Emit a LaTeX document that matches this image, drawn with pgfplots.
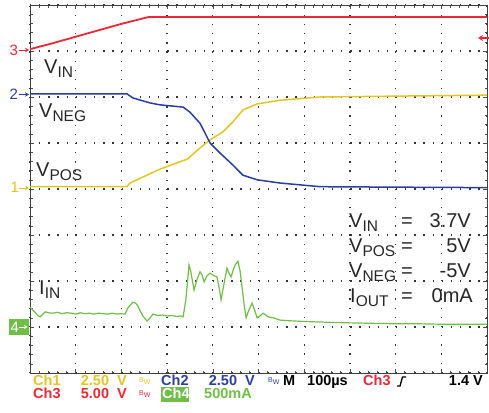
\documentclass[border=0pt]{standalone}
\usepackage{pgfplots}
\pgfplotsset{compat=1.18}
\usepackage{fontspec}
\setmainfont{Liberation Sans}
\usetikzlibrary{arrows.meta}
\definecolor{cy}{RGB}{226,196,36}
\definecolor{cb}{RGB}{44,62,160}
\definecolor{cr}{RGB}{236,40,52}
\definecolor{cg}{RGB}{112,190,72}
\newcommand\lab[2]{#1{\fontsize{15.5}{16}\selectfont\raisebox{-4pt}{#2}}}
\newcommand\bw{{\fontsize{7}{7}\selectfont\normalfont B\raisebox{-2pt}{W}}}
\begin{document}
\begin{tikzpicture}
\begin{axis}[at={(30pt,39pt)}, anchor=south west, scale only axis,
  width=457pt, height=368pt,
  xmin=0, xmax=10, ymin=0, ymax=8,
  xtick={0,...,10}, ytick={0,...,8},
  xticklabels={}, yticklabels={},
  grid=major,
  major grid style={black!80, line width=1.3pt, dash pattern=on 1.3pt off 7.85pt},
  minor tick num=4, tick align=inside,
  major tick length=4pt, minor tick length=2.5pt,
  tick style={black!70, line width=0.6pt},
  axis line style={black!75, line width=0.8pt},
]
% Ch3 VIN (red)
\addplot[cr, line width=1.8pt] coordinates {
(0,7.04) (0.5,7.17) (1.0,7.31) (1.5,7.45) (2.0,7.59) (2.6,7.74) (4,7.74) (6,7.74) (8,7.74) (10,7.74)};
% Ch1 VPOS (yellow)
\addplot[cy, line width=1.5pt] coordinates {
(0,4.05) (1.0,4.05) (2.12,4.05) (2.19,4.13) (2.47,4.26) (2.84,4.43) (3.22,4.57) (3.44,4.65)
(3.72,4.89) (3.94,5.07) (4.22,5.24) (4.44,5.46) (4.66,5.72) (4.97,5.85) (5.47,5.93)
(6.35,6.00) (8.10,6.02) (10,6.04)};
% Ch2 VNEG (blue)
\addplot[cb, line width=1.5pt] coordinates {
(0,6.07) (1.0,6.07) (2.12,6.07) (2.25,5.98) (2.63,5.87) (2.84,5.83) (3.35,5.78) (3.50,5.67)
(3.72,5.43) (3.94,5.00) (4.16,4.78) (4.44,4.52) (4.66,4.30) (4.97,4.20) (5.47,4.13)
(5.91,4.09) (6.35,4.05) (8.0,4.04) (10,4.03)};
% Ch4 IIN (green)
\addplot[cg, line width=1.2pt] coordinates {
(0,1.43) (0.05,1.38) (0.11,1.32) (0.17,1.25) (0.22,1.22) (0.28,1.28) (0.33,1.33) (0.4,1.31)
(0.5,1.30) (0.6,1.32) (0.7,1.29) (0.8,1.31) (0.9,1.30) (1.0,1.28) (1.1,1.31) (1.2,1.29)
(1.3,1.30) (1.4,1.28) (1.5,1.30) (1.6,1.29) (1.7,1.28) (1.8,1.30) (1.9,1.28) (2.0,1.29)
(2.08,1.28) (2.14,1.41) (2.25,1.54) (2.31,1.52) (2.36,1.46) (2.42,1.33) (2.47,1.24)
(2.56,1.13) (2.63,1.20) (2.69,1.28) (2.8,1.25) (2.9,1.26) (3.0,1.24) (3.1,1.25) (3.2,1.23)
(3.3,1.24) (3.35,1.22) (3.41,1.59) (3.48,2.35) (3.52,2.20) (3.59,1.80) (3.65,2.02)
(3.72,2.20) (3.77,2.12) (3.81,1.98) (3.87,2.11) (3.94,2.17) (4.03,2.11) (4.09,2.09)
(4.14,1.85) (4.18,1.59) (4.24,1.91) (4.31,2.28) (4.35,2.18) (4.40,2.09) (4.45,2.25)
(4.49,2.35) (4.55,2.43) (4.60,2.20) (4.64,1.87) (4.69,1.45) (4.73,1.20) (4.79,1.37)
(4.86,1.52) (4.92,1.35) (4.97,1.20) (5.03,1.24) (5.10,1.30) (5.16,1.26) (5.21,1.22)
(5.32,1.20) (5.47,1.15) (5.6,1.14) (5.8,1.13) (6.0,1.12) (6.3,1.11) (6.6,1.10) (7.0,1.09)
(7.5,1.08) (8.0,1.07) (8.5,1.07) (9.0,1.06) (9.5,1.06) (10,1.06)};
\end{axis}
\begin{scope}[x=1pt, y=-1pt, shift={(0pt,412pt)}]
% trace labels
\begin{scope}[every node/.style={anchor=base west, inner sep=0pt, text=black!85, font=\fontsize{20}{20}\selectfont}]
\node at (44,74) {\lab{V}{IN}};
\node at (39,118) {\lab{V}{NEG}};
\node at (36,177) {\lab{V}{POS}};
\node at (39,295) {\lab{I}{IN}};
% right block
\node at (349,228) {\lab{V}{IN}};
\node at (349,253) {\lab{V}{POS}};
\node at (349,278) {\lab{V}{NEG}};
\node at (350,302) {\lab{I}{OUT}};
\node at (401,228) {=};
\node at (401,253) {=};
\node at (401,278) {=};
\node at (401,302) {=};
\node[anchor=base east] at (471,228) {3.7V};
\node[anchor=base east] at (471,253) {5V};
\node[anchor=base east] at (471,278) {-5V};
\node[anchor=base east] at (473,302) {0mA};
\end{scope}
% channel markers
\begin{scope}[every node/.style={anchor=base west, inner sep=0pt, font=\fontsize{15}{15}\selectfont}]
\node[text=cr] at (9.5,56) {3};
\draw[cr, line width=0.9pt, -{Stealth[length=4pt,width=4.5pt]}] (18.5,50) -- (29,50);
\node[text=cb] at (9.5,100) {2};
\draw[cb, line width=0.9pt, -{Stealth[length=4pt,width=4.5pt]}] (18.5,94.5) -- (29,94.5);
\node[text=cy] at (10.5,193) {1};
\draw[cy, line width=0.9pt, -{Stealth[length=4pt,width=4.5pt]}] (18.5,188) -- (29,188);
\fill[cg] (9,319) rectangle (29,335);
\node[text=white] at (10.5,332.5) {4};
\draw[white, line width=0.9pt, -{Stealth[length=3.5pt,width=4pt]}] (18.5,327) -- (27.5,327);
\end{scope}
\draw[cr, line width=1.1pt, -{Stealth[length=5pt,width=6pt]}] (489,38) -- (478,38);
% status line
\begin{scope}[every node/.style={inner sep=0pt, font=\fontsize{14.5}{14.5}\selectfont\bfseries}]
\node[anchor=base west, text=cy] at (33,385) {Ch1};
\node[anchor=base east, text=cy] at (127,385) {2.50\ \ V};
\node[anchor=base west, text=cy] at (139,382) {\bw};
\node[anchor=base west, text=cb] at (161,385) {Ch2};
\node[anchor=base east, text=cb] at (255,385) {2.50\ \ V};
\node[anchor=base west, text=cb] at (268,382) {\bw};
\node[anchor=base west, text=black] at (283,385) {M};
\node[anchor=base west, text=black] at (307,385) {100µs};
\node[anchor=base west, text=cr] at (363,385) {Ch3};
\node[anchor=base east, text=black] at (483,385) {1.4\ V};
\node[anchor=base west, text=cr] at (33,398) {Ch3};
\node[anchor=base east, text=cr] at (127,398) {5.00\ \ V};
\node[anchor=base west, text=cr] at (139,395) {\bw};
\fill[cg] (161,387) rectangle (189,402);
\node[anchor=base west, text=white] at (162,398) {Ch4};
\node[anchor=base west, text=cg] at (204,398) {500mA};
\end{scope}
\draw[black, line width=1.3pt] (397,386) -- (400,386) -- (402.5,377) -- (406,377);
\pgfresetboundingbox
\path (0,0) rectangle (489,412);
\end{scope}
\end{tikzpicture}
\end{document}
